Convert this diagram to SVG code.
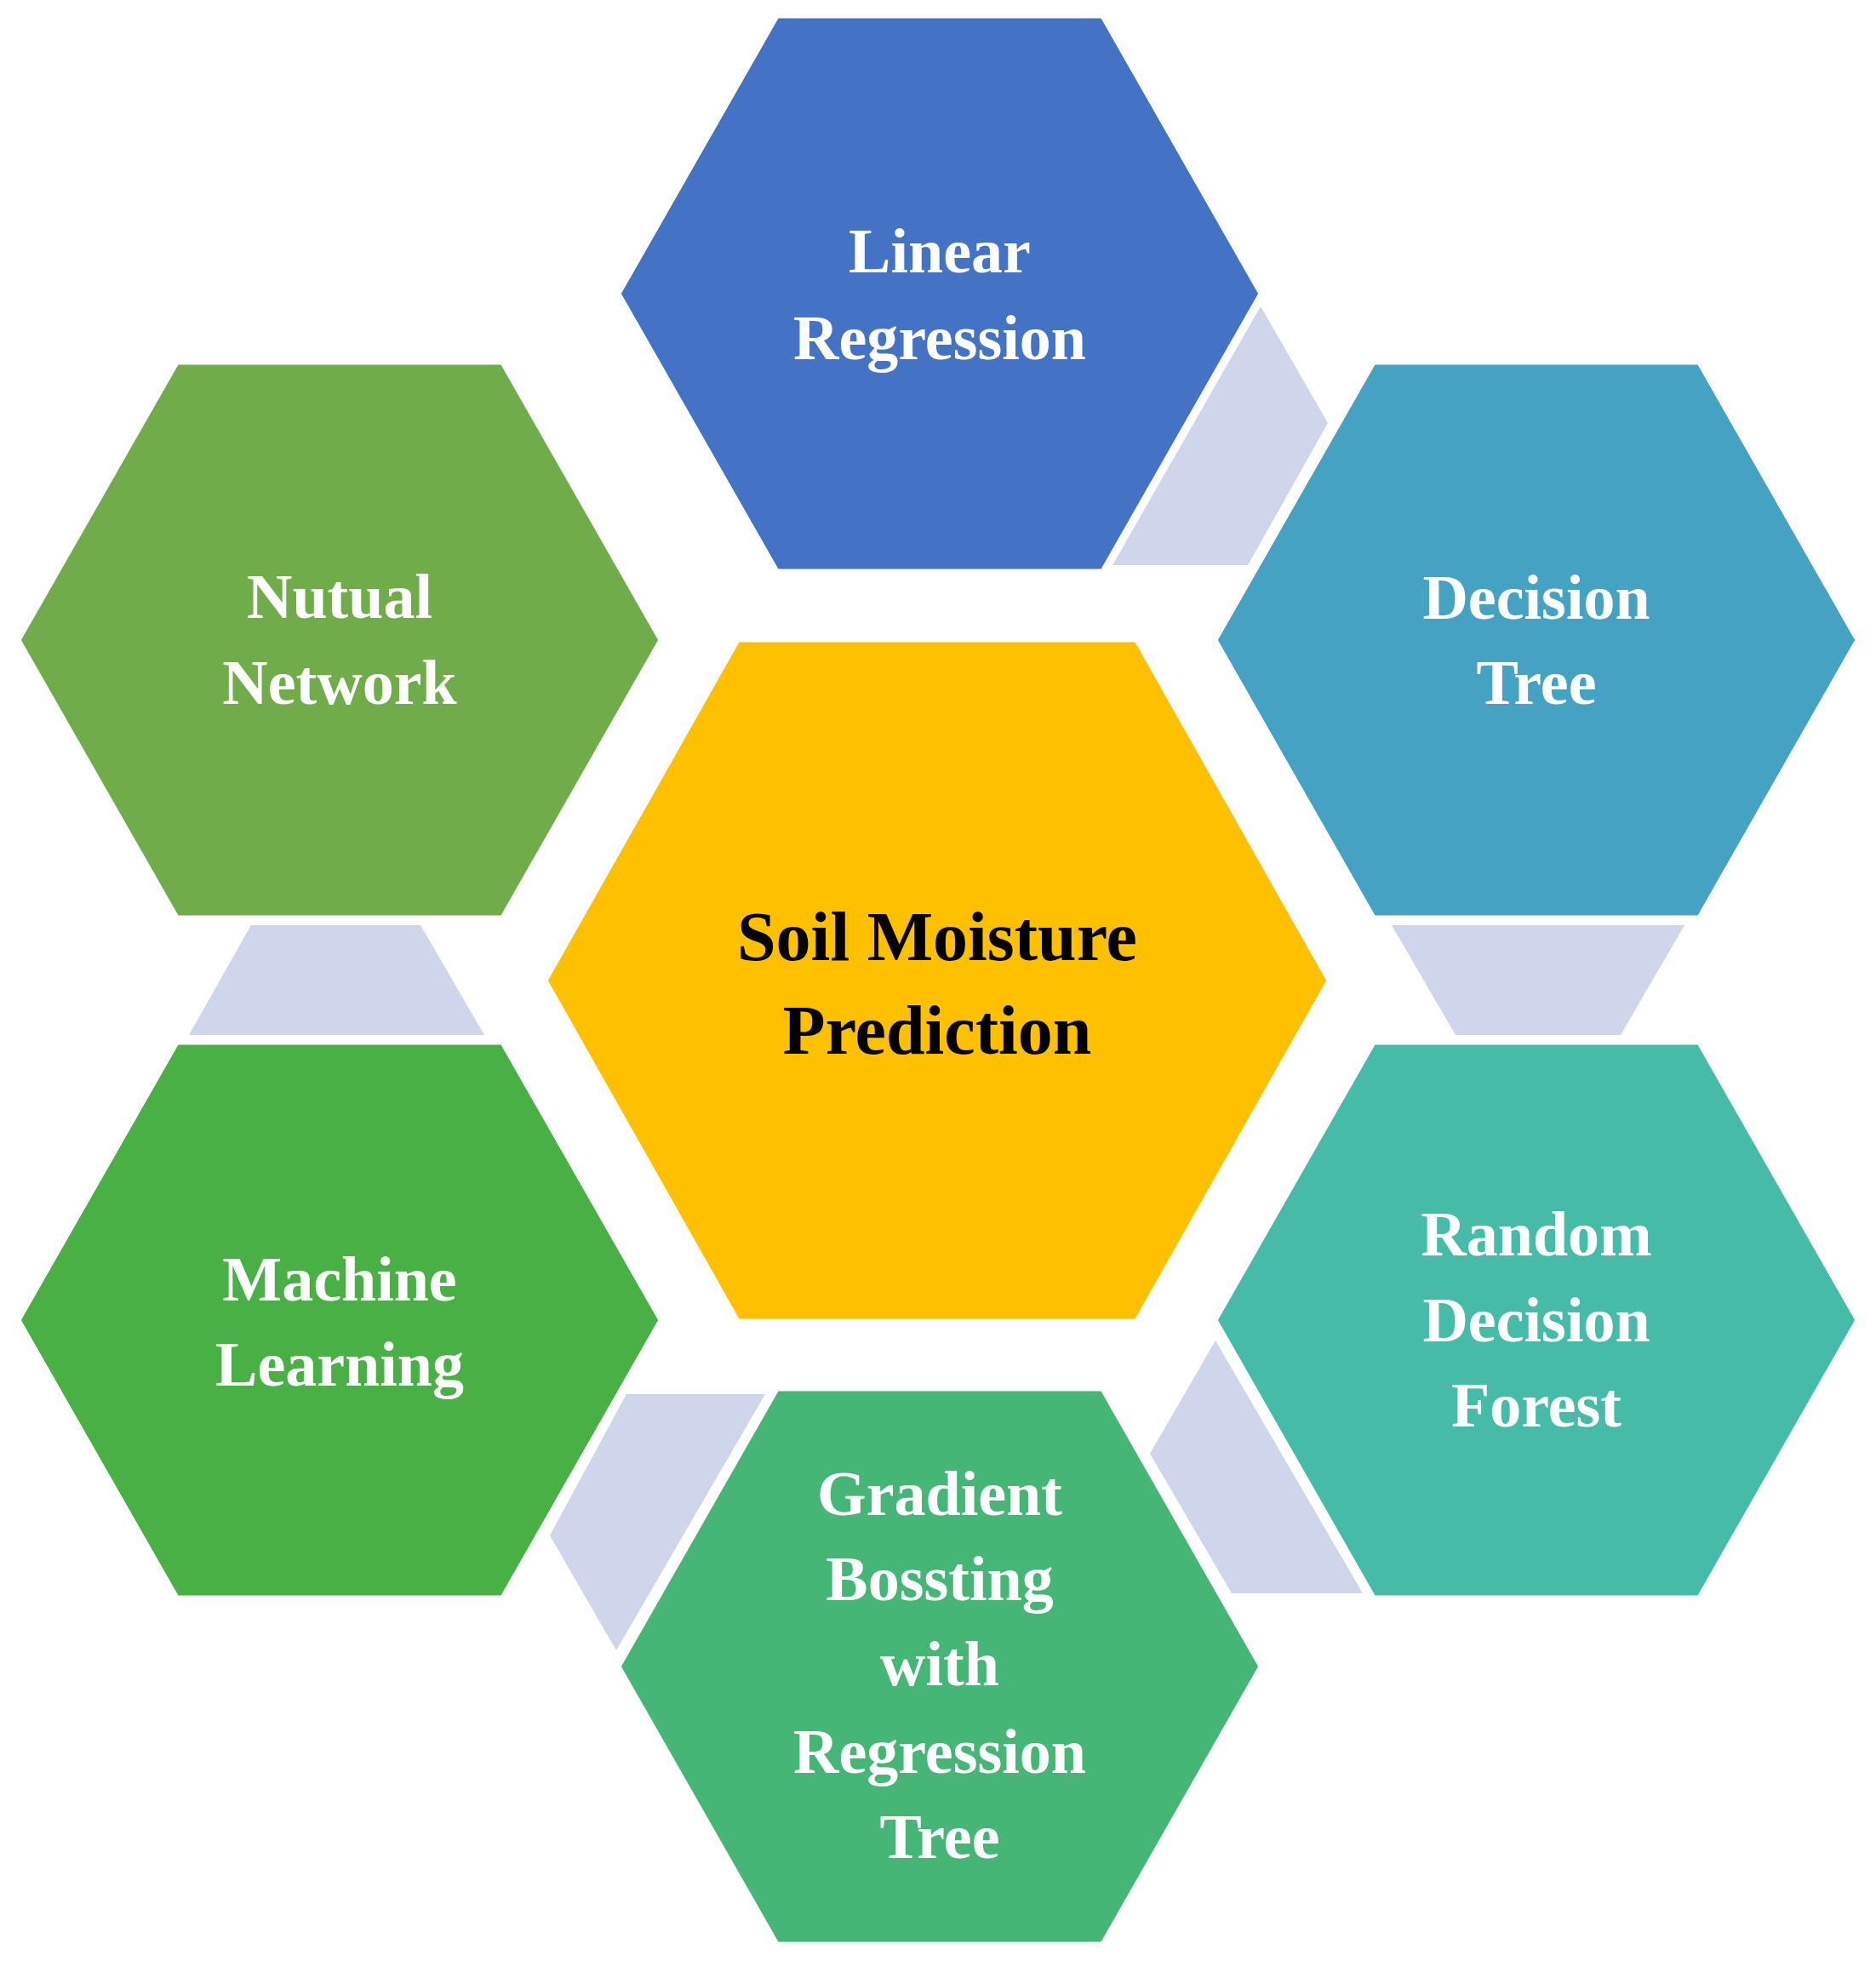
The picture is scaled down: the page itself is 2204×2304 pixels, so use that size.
<svg xmlns="http://www.w3.org/2000/svg" width="2204" height="2304" viewBox="0 0 2204 2304">
<style>
.h{stroke:#fff;stroke-width:5}
.c{fill:#CFD5EA}
text{font-family:"Liberation Serif","DejaVu Serif",serif;font-weight:bold;text-anchor:middle;fill:#fff;font-size:74px}
.m{fill:#000;font-size:82px}
</style>
<defs>
<polygon id="hx" points="-377,0 -191,-326 191,-326 377,0 191,326 -191,326"/>
</defs>
<g id="connectors">
<polygon class="c" points="1481,360 1560,497 1466,664 1307,664"/>
<polygon class="c" points="1635,1087 1979,1087 1904,1216 1710,1216"/>
<polygon class="c" points="1428,1575 1601,1872 1447,1872 1351,1708"/>
<polygon class="c" points="899,1638 724,1939 646,1804 736,1638"/>
<polygon class="c" points="295,1087 494,1087 569,1216 222,1216"/>
</g>
<g id="center"><polygon class="h" fill="#FFC000" points="641,1152 867,752 1335,752 1561,1152 1335,1552 867,1552"/><text class="m" x="1101" y="1128">Soil Moisture</text><text class="m" x="1101" y="1238">Prediction</text></g>
<g id="linear"><use href="#hx" class="h" fill="#4472C4" x="1104" y="345"/><text x="1104" y="320">Linear</text><text x="1104" y="422">Regression</text></g>
<g id="decision"><use href="#hx" class="h" fill="#46A2C3" x="1805" y="752"/><text x="1805" y="727">Decision</text><text x="1805" y="827">Tree</text></g>
<g id="random"><use href="#hx" class="h" fill="#46BBA8" x="1805" y="1551"/><text x="1805" y="1475">Random</text><text x="1805" y="1576">Decision</text><text x="1805" y="1676">Forest</text></g>
<g id="gradient"><use href="#hx" class="h" fill="#46B676" x="1104" y="1958"/><text x="1104" y="1780">Gradient</text><text x="1104" y="1880">Bossting</text><text x="1104" y="1980">with</text><text x="1104" y="2083">Regression</text><text x="1104" y="2183">Tree</text></g>
<g id="machine"><use href="#hx" class="h" fill="#48B045" x="399" y="1551"/><text x="399" y="1528">Machine</text><text x="399" y="1628">Learning</text></g>
<g id="nutual"><use href="#hx" class="h" fill="#71AC4A" x="399" y="752"/><text x="399" y="726">Nutual</text><text x="399" y="827">Network</text></g>
</svg>
